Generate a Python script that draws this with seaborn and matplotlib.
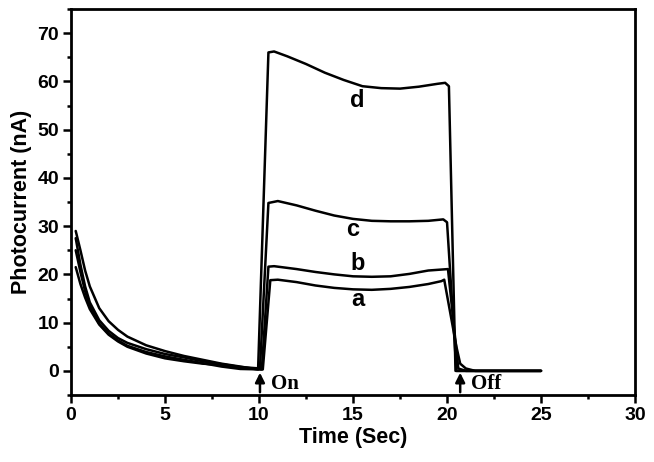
import numpy as np
import pandas as pd
import matplotlib
matplotlib.use("Agg")
import matplotlib.pyplot as plt
import seaborn as sns
from matplotlib.ticker import MultipleLocator

# decay part (light off, 0 - 10 s)
t_decay = [0.25, 0.5, 0.75, 1.0, 1.5, 2.0, 2.5, 3.0, 4.0, 5.0, 6.0, 7.0, 8.0, 9.0]
decay_d = [29.0, 25.0, 20.8, 17.5, 13.0, 10.3, 8.5, 7.1, 5.3, 4.1, 3.1, 2.3, 1.5, 0.9]
decay_c = [27.5, 22.0, 17.5, 14.2, 10.5, 8.3, 6.8, 5.8, 4.5, 3.5, 2.8, 2.0, 1.4, 0.8]
decay_b = [25.0, 20.5, 16.5, 13.5, 9.8, 7.7, 6.3, 5.2, 3.9, 3.0, 2.3, 1.6, 0.9, 0.4]
decay_a = [21.5, 18.0, 15.2, 12.8, 9.6, 7.5, 6.1, 5.0, 3.6, 2.6, 2.0, 1.5, 1.2, 0.6]

# light on / off part
t_on_d = [9.95, 10.5, 10.8, 11.5, 12.5, 13.5, 14.5, 15.5, 16.5, 17.5, 18.5, 19.5, 19.9, 20.1, 20.45, 21.0, 25.0]
v_on_d = [0.3, 66.0, 66.2, 65.2, 63.6, 61.8, 60.3, 59.0, 58.6, 58.5, 58.9, 59.5, 59.7, 59.0, 0.0, 0.0, 0.0]
t_on_c = [10.05, 10.5, 11.0, 12.0, 13.0, 14.0, 15.0, 16.0, 17.0, 18.0, 19.0, 19.8, 20.0, 20.5, 21.0, 25.0]
v_on_c = [0.5, 34.8, 35.2, 34.3, 33.2, 32.2, 31.5, 31.1, 31.0, 31.0, 31.1, 31.4, 30.8, 0.0, 0.0, 0.0]
t_on_b = [10.15, 10.5, 10.8, 12.0, 13.0, 14.0, 15.0, 16.0, 17.0, 18.0, 19.0, 20.05, 20.6, 21.0, 25.0]
v_on_b = [0.3, 21.6, 21.7, 21.1, 20.5, 20.0, 19.6, 19.5, 19.6, 20.1, 20.8, 21.1, 0.5, 0.0, 0.0]
t_on_a = [10.2, 10.6, 11.0, 12.0, 13.0, 14.0, 15.0, 16.0, 17.0, 18.0, 19.0, 19.7, 19.85, 20.5, 20.7, 21.0, 21.5, 25.0]
v_on_a = [0.3, 18.8, 18.9, 18.4, 17.7, 17.2, 16.9, 16.8, 17.0, 17.4, 18.0, 18.6, 18.9, 5.0, 1.5, 0.5, 0.0, 0.0]

labels = ["a", "b", "c", "d"]
label_pos_t = [15.25, 15.25, 15.0, 15.2]
label_pos_v = [14.7, 22.3, 29.2, 56.0]

curves = {
    "a": (t_decay + t_on_a, decay_a + v_on_a),
    "b": (t_decay + t_on_b, decay_b + v_on_b),
    "c": (t_decay + t_on_c, decay_c + v_on_c),
    "d": (t_decay + t_on_d, decay_d + v_on_d),
}

sns.set_theme(style="ticks")
plt.rcParams['font.family'] = ['Liberation Sans', 'DejaVu Sans']
plt.rcParams['font.weight'] = 'bold'
for key in ['text.color', 'axes.labelcolor', 'xtick.color', 'ytick.color', 'axes.edgecolor']:
    plt.rcParams[key] = 'black'

fig = plt.figure(figsize=(6.54, 4.62), dpi=100)
ax = fig.add_axes([0.1086, 0.145, 0.8624, 0.8355])

for name in labels:
    t, v = curves[name]
    sns.lineplot(x=t, y=v, ax=ax, color="black", linewidth=1.8, sort=False, estimator=None)

for lab, lt, lv in zip(labels, label_pos_t, label_pos_v):
    ax.text(lt, lv, lab, fontsize=17, fontweight="bold", ha="center", va="center", color="black")

# On / Off arrows
for xa, txt in [(10.05, "On"), (20.7, "Off")]:
    ax.annotate("", xy=(xa, 0.2), xytext=(xa, -5),
                arrowprops=dict(arrowstyle="-|>", color="black", lw=1.8, mutation_scale=14))
    ax.text(xa + 0.6, -2.7, txt, fontsize=15, fontweight="bold", ha="left", va="center",
            color="black", family=["Liberation Serif", "DejaVu Serif"])

ax.set_xlim(0, 30)
ax.set_ylim(-5, 75)
ax.xaxis.set_major_locator(MultipleLocator(5))
ax.xaxis.set_minor_locator(MultipleLocator(2.5))
ax.yaxis.set_minor_locator(MultipleLocator(5))
ax.set_yticks([0, 10, 20, 30, 40, 50, 60, 70])
ax.tick_params(which="major", direction="out", length=5.5, width=1.8, labelsize=14, pad=3, colors="black")
ax.tick_params(which="minor", direction="out", length=3, width=1.8, colors="black")
for lbl in ax.get_xticklabels() + ax.get_yticklabels():
    lbl.set_fontweight("bold")
for sp in ax.spines.values():
    sp.set_linewidth(2.0)
    sp.set_color("black")

ax.set_xlabel("Time (Sec)", fontsize=15.5, fontweight="bold", labelpad=2)
ax.set_ylabel("Photocurrent (nA)", fontsize=15.5, fontweight="bold", labelpad=4)

plt.savefig("out.png", dpi=100)
